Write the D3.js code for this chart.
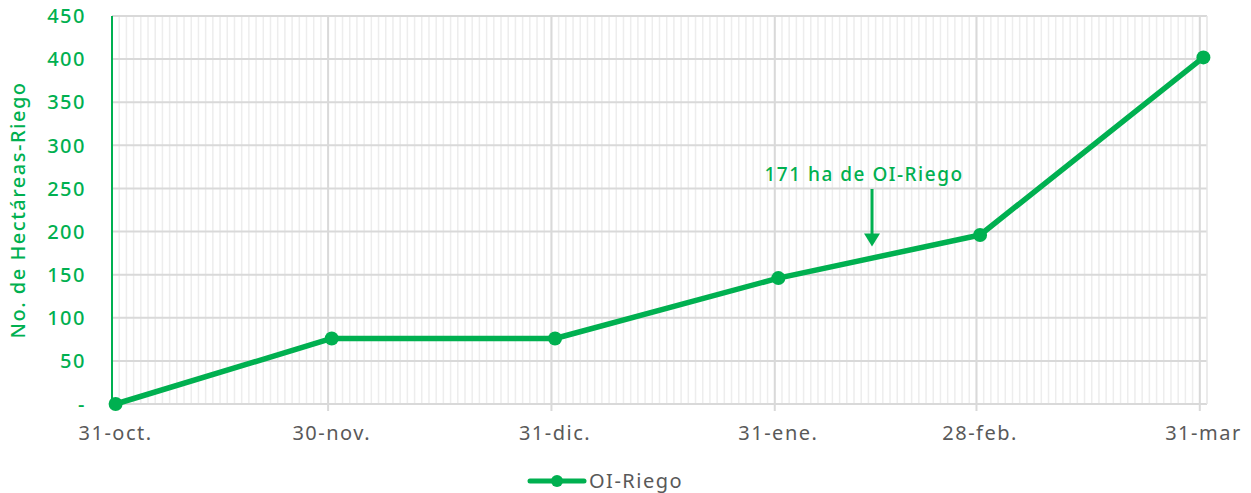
<!DOCTYPE html>
<html>
<head>
<meta charset="utf-8">
<script src="https://cdn.jsdelivr.net/npm/d3@7"></script>
<style>
  body { margin: 0; background: #fff; }
  text { font-family: "Noto Sans", "Open Sans", sans-serif; letter-spacing: 1.5px; }
</style>
</head>
<body>
<svg id="chart"></svg>
<script>
// datos de la serie
const dates = ["2020-10-31", "2020-11-30", "2020-12-31", "2021-01-31", "2021-02-28", "2021-03-31"];
const values = [0, 76, 76, 146, 196, 402];
const xLabels = ["31-oct.", "30-nov.", "31-dic.", "31-ene.", "28-feb.", "31-mar"];
const yTicks = [0, 50, 100, 150, 200, 250, 300, 350, 400, 450];
const seriesName = "OI-Riego";
const note = { date: "2021-02-13", value: 171, text: "171 ha de OI-Riego" };

const width = 1251;
const height = 493;
const MARGINS = { top: 16, right: 44, bottom: 89, left: 112 };
const green = "#00b050";

const parse = d3.utcParse("%Y-%m-%d");
const points = dates.map((d, i) => ({ date: parse(d), value: values[i] }));

const svg = d3.select("#chart").attr("width", width).attr("height", height);

// eje de fechas: un día por franja, los puntos al centro del día
const start = parse(dates[0]);
const end = d3.utcDay.offset(parse(dates[dates.length - 1]), 1);
const x = d3.scaleUtc().domain([start, end]).range([MARGINS.left, width - MARGINS.right]);
const mid = (d) => x(d3.utcHour.offset(d, 12));
const y = d3.scaleLinear().domain([0, 450]).range([height - MARGINS.bottom, MARGINS.top]);

// líneas diarias
svg.append("g")
  .selectAll("line")
  .data(d3.utcDay.range(d3.utcDay.offset(start, 1), end))
  .join("line")
  .attr("x1", (d) => x(d)).attr("x2", (d) => x(d))
  .attr("y1", y(450)).attr("y2", y(0))
  .attr("stroke", "#ededed")
  .attr("stroke-width", 1.5);

// líneas horizontales
svg.append("g")
  .selectAll("line")
  .data(yTicks)
  .join("line")
  .attr("x1", x(start)).attr("x2", x(end))
  .attr("y1", (d) => y(d)).attr("y2", (d) => y(d))
  .attr("stroke", "#d9d9d9")
  .attr("stroke-width", 2);

// líneas mensuales y marcas del eje
svg.append("g")
  .selectAll("line")
  .data(points.slice(1).map((p) => p.date))
  .join("line")
  .attr("x1", (d) => x(d)).attr("x2", (d) => x(d))
  .attr("y1", y(450)).attr("y2", y(0) + 7)
  .attr("stroke", "#d9d9d9")
  .attr("stroke-width", 2);
svg.append("line")
  .attr("x1", x(end)).attr("x2", x(end))
  .attr("y1", y(450)).attr("y2", y(0))
  .attr("stroke", "#e4e4e4")
  .attr("stroke-width", 1.5);

// eje y
svg.append("line")
  .attr("x1", x(start)).attr("x2", x(start))
  .attr("y1", y(450)).attr("y2", y(0))
  .attr("stroke", green)
  .attr("stroke-width", 2);

svg.append("g")
  .selectAll("text")
  .data(yTicks)
  .join("text")
  .attr("x", 86)
  .attr("y", (d) => y(d))
  .attr("dy", "0.36em")
  .attr("text-anchor", "end")
  .attr("fill", green)
  .attr("font-size", 20)
  .attr("font-weight", 500)
  .text((d) => (d === 0 ? "-" : d));

svg.append("text")
  .attr("transform", `translate(25, ${(y(0) + y(450)) / 2}) rotate(-90)`)
  .attr("text-anchor", "middle")
  .attr("fill", green)
  .attr("font-size", 20)
  .attr("font-weight", 500)
  .text("No. de Hectáreas-Riego");

// etiquetas del eje x
svg.append("g")
  .selectAll("text")
  .data(points)
  .join("text")
  .attr("x", (d) => mid(d.date))
  .attr("y", 440)
  .attr("text-anchor", "middle")
  .attr("fill", "#595959")
  .attr("font-size", 20)
  .text((d, i) => xLabels[i]);

// serie
const line = d3.line().x((d) => mid(d.date)).y((d) => y(d.value));
svg.append("path")
  .datum(points)
  .attr("d", line)
  .attr("fill", "none")
  .attr("stroke", green)
  .attr("stroke-width", 5.5)
  .attr("stroke-linejoin", "round");

svg.append("g")
  .selectAll("circle")
  .data(points)
  .join("circle")
  .attr("cx", (d) => mid(d.date))
  .attr("cy", (d) => y(d.value))
  .attr("r", 7)
  .attr("fill", green);

// anotación
const nx = mid(parse(note.date));
const ny = y(note.value);
svg.append("text")
  .attr("x", nx - 8)
  .attr("y", 181)
  .attr("text-anchor", "middle")
  .attr("fill", green)
  .attr("font-size", 19)
  .attr("font-weight", 500)
  .text(note.text);
svg.append("line")
  .attr("x1", nx).attr("x2", nx)
  .attr("y1", 189).attr("y2", ny - 22)
  .attr("stroke", green)
  .attr("stroke-width", 3);
svg.append("path")
  .attr("d", `M${nx - 8},${ny - 23} L${nx + 8},${ny - 23} L${nx},${ny - 10} Z`)
  .attr("fill", green);

// leyenda
const lg = svg.append("g").attr("transform", "translate(530, 481)");
lg.append("line")
  .attr("x1", 0).attr("x2", 54)
  .attr("stroke", green)
  .attr("stroke-width", 5)
  .attr("stroke-linecap", "round");
lg.append("circle").attr("cx", 27).attr("r", 6).attr("fill", green);
lg.append("text")
  .attr("x", 59)
  .attr("dy", "0.36em")
  .attr("fill", "#595959")
  .attr("font-size", 20)
  .text(seriesName);
</script>
</body>
</html>
